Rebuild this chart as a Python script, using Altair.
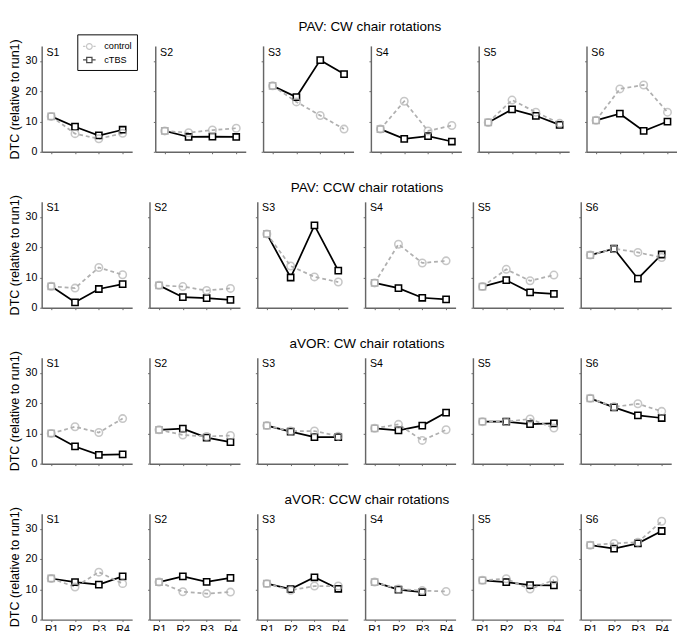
import altair as alt
import pandas as pd

FONT = "Liberation Sans"
GRAY = "#b0b0b0"
AX = "#666666"

runs = ["R1", "R2", "R3", "R4"]
subjects = ["S1", "S2", "S3", "S4", "S5", "S6"]
conditions = [
    "PAV: CW chair rotations",
    "PAV: CCW chair rotations",
    "aVOR: CW chair rotations",
    "aVOR: CCW chair rotations",
]
series_names = ["control", "cTBS"]

pav_cw_control = [[11.7, 6.0, 4.3, 6.1], [6.9, 6.3, 7.2, 7.8], [21.8, 16.5, 12.0, 7.5],
                  [7.5, 16.7, 6.9, 8.7], [9.7, 17.1, 13.1, 9.4], [10.4, 20.8, 22.1, 13.1]]
pav_cw_ctbs = [[11.7, 8.3, 5.4, 7.3], [6.9, 4.9, 5.0, 4.9], [21.8, 18.1, 30.3, 25.7],
               [7.5, 4.3, 5.2, 3.4], [9.7, 14.0, 11.9, 8.9], [10.4, 12.6, 6.9, 10.0]]
pav_ccw_control = [[7.1, 6.5, 13.3, 10.9], [7.4, 7.0, 5.7, 6.4], [24.4, 13.8, 10.2, 8.5],
                   [8.2, 21.0, 14.8, 15.5], [7.0, 12.7, 8.9, 10.8], [17.4, 19.5, 18.3, 16.6]]
pav_ccw_ctbs = [[7.1, 1.8, 6.2, 7.8], [7.4, 3.5, 3.2, 2.6], [24.4, 10.0, 27.2, 12.3],
                [8.2, 6.5, 3.3, 2.8], [7.0, 9.1, 5.1, 4.6], [17.4, 19.5, 9.6, 17.6]]
avor_cw_control = [[10.0, 12.2, 10.3, 14.9], [11.2, 9.5, 9.0, 9.3], [12.6, 10.8, 10.8, 9.1],
                   [11.7, 13.0, 7.7, 11.2], [13.9, 13.9, 14.8, 11.8], [21.6, 18.8, 19.8, 17.3]]
avor_cw_ctbs = [[10.0, 5.7, 2.9, 3.1], [11.2, 11.6, 8.6, 7.1], [12.6, 10.6, 8.8, 8.8],
                [11.7, 11.0, 12.6, 16.9], [13.9, 13.9, 13.1, 13.3], [21.6, 18.6, 16.0, 15.1]]
avor_ccw_control = [[13.6, 10.8, 15.7, 11.9], [12.4, 9.2, 8.6, 9.1], [11.9, 9.7, 11.1, 11.1],
                    [12.4, 10.1, 9.6, 9.3], [13.0, 13.5, 10.1, 13.1], [24.6, 25.2, 25.6, 32.5]]
avor_ccw_ctbs = [[13.6, 12.4, 11.6, 14.3], [12.4, 14.3, 12.5, 13.8], [11.9, 10.1, 14.0, 10.2],
                 [12.4, 9.9, 9.1, None], [13.0, 12.4, 11.4, 11.3], [24.6, 23.5, 25.2, 29.3]]

y_ticks = [0, 10, 20, 30]

row_data = [
    (pav_cw_control, pav_cw_ctbs),
    (pav_ccw_control, pav_ccw_ctbs),
    (avor_cw_control, avor_cw_ctbs),
    (avor_ccw_control, avor_ccw_ctbs),
]

CTRL_PATH = ("M-1,0L-0.64,0M0.64,0L1,0M0.46,0A0.46,0.46,0,1,1,-0.46,0"
             "A0.46,0.46,0,1,1,0.46,0Z")
CTBS_PATH = ("M-1,0L-0.42,0M0.42,0L1,0M-0.42,-0.42L0.42,-0.42L0.42,0.42L-0.42,0.42Z")

W, H = 94, 110


def make_df(ctrl, ctbs, i):
    recs = []
    for j, r in enumerate(runs):
        recs.append({"run": r, "series": "control", "value": ctrl[i][j]})
        recs.append({"run": r, "series": "cTBS", "value": ctbs[i][j]})
    return pd.DataFrame(recs)


def panel(ri, si):
    ctrl, ctbs = row_data[ri]
    df = make_df(ctrl, ctbs, si)
    first = si == 0
    last = ri == 3

    xaxis = dict(title=None, labels=last, ticks=True, tickSize=2, tickColor=AX, tickWidth=1,
                 labelAngle=0, labelFontSize=11, labelPadding=2, labelColor="black",
                 domainColor=AX, domainWidth=1.5, grid=False)
    yaxis = dict(labels=first, values=y_ticks, ticks=True, tickSize=2, tickColor=AX,
                 tickWidth=1, grid=False, labelFontSize=11, labelPadding=3,
                 labelColor="black", domainColor=AX, domainWidth=1.5)
    if first:
        yaxis.update(title="DTC (relative to run1)", titleFontSize=13, titleFontWeight="normal",
                     titleColor="black", titlePadding=4)
    else:
        yaxis.update(title=None)

    base = alt.Chart(df).encode(
        x=alt.X("run:N", sort=runs, scale=alt.Scale(domain=runs, padding=0.4),
                axis=alt.Axis(**xaxis)),
        y=alt.Y("value:Q", scale=alt.Scale(domain=[0, 35], nice=False),
                axis=alt.Axis(**yaxis)),
    )
    ctbs_f = base.transform_filter("datum.series == 'cTBS'")
    ctrl_f = base.transform_filter("datum.series == 'control'")

    ctbs_line = ctbs_f.mark_line(color="black", strokeWidth=1.8)
    ctrl_line = ctrl_f.mark_line(color=GRAY, strokeWidth=1.8, strokeDash=[4, 3])
    ctbs_pts = ctbs_f.mark_point(shape="square", size=42, filled=False, fill="white",
                                 fillOpacity=1, strokeWidth=1.6).encode(
        stroke=alt.condition("datum.run == 'R1'", alt.value(GRAY), alt.value("black"))
    )
    if ri == 0 and si == 0:
        legend = alt.Legend(
            title=None, orient="none", legendX=37, legendY=-12, strokeColor="black",
            fillColor="white", padding=5, labelFontSize=9.5, labelFont=FONT, labelColor="black",
            symbolSize=169, symbolStrokeWidth=1.3, rowPadding=0, labelOffset=8,
            cornerRadius=0,
            symbolType={"expr": "datum.value == 'control' ? '" + CTRL_PATH + "' : '"
                        + CTBS_PATH + "'"},
        )
        ctrl_pts = ctrl_f.mark_point(shape="circle", size=60, filled=False,
                                     strokeWidth=1.6).encode(
            color=alt.Color("series:N",
                            scale=alt.Scale(domain=series_names, range=[GRAY, "black"]),
                            legend=legend)
        )
    else:
        ctrl_pts = ctrl_f.mark_point(shape="circle", size=60, filled=False,
                                     strokeWidth=1.6, color=GRAY)

    label = alt.Chart(pd.DataFrame({"s": [subjects[si]]})).mark_text(
        align="left", baseline="top", fontSize=11, font=FONT, color="black"
    ).encode(x=alt.value(5), y=alt.value(1), text="s:N")

    return alt.layer(ctbs_line, ctrl_line, ctbs_pts, ctrl_pts, label).properties(width=W, height=H)


rows = []
for ri in range(4):
    row = alt.hconcat(
        *[panel(ri, si) for si in range(6)], spacing=15,
        title=alt.TitleParams(conditions[ri], fontSize=14, fontWeight="normal", font=FONT,
                              anchor="middle", offset=0, dx=28, color="black"),
    ).resolve_legend(color="independent")
    rows.append(row)

chart = alt.vconcat(*rows, spacing=22).resolve_legend(color="independent").properties(
    padding=0
).configure(font=FONT).configure_view(stroke=None)

chart.save("out.html", embed_options={"renderer": "svg", "actions": False})
